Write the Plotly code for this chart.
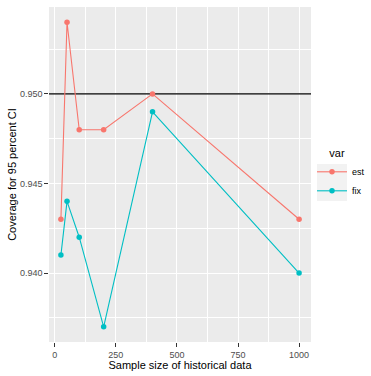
import plotly.graph_objects as go

sample_size = [25, 50, 100, 200, 400, 1000]
est = [0.943, 0.954, 0.948, 0.948, 0.950, 0.943]
fix = [0.941, 0.944, 0.942, 0.937, 0.949, 0.940]
ref_line = 0.95
x_ticks = [0, 250, 500, 750, 1000]
y_ticks = [0.940, 0.945, 0.950]
y_tick_labels = ["0.940", "0.945", "0.950"]

col_est = "#F8766D"
col_fix = "#00BFC4"
FONT = "Liberation Sans, Arial, sans-serif"

xmin, xmax = min(sample_size), max(sample_size)
xpad = (xmax - xmin) * 0.05
allv = est + fix
ymin, ymax = min(allv), max(allv)
ypad = (ymax - ymin) * 0.05
xr = [xmin - xpad, xmax + xpad]

fig = go.Figure()
fig.add_trace(go.Scatter(
    x=xr, y=[ref_line, ref_line], mode="lines", showlegend=False,
    line=dict(color="black", width=1.1), hoverinfo="skip",
))
for name, vals, col in [("est", est, col_est), ("fix", fix, col_fix)]:
    fig.add_trace(go.Scatter(
        x=sample_size, y=vals, name=name, mode="lines+markers",
        line=dict(color=col, width=1.1),
        marker=dict(color=col, size=5.5),
    ))

fig.update_xaxes(
    range=xr,
    tickvals=x_ticks, ticktext=[str(t) for t in x_ticks],
    showgrid=True, gridcolor="white", gridwidth=1.1,
    minor=dict(tickvals=[125, 375, 625, 875], showgrid=True, gridcolor="white", gridwidth=0.5, ticklen=0),
    ticks="outside", ticklen=3.7, tickcolor="#333333", tickwidth=1,
    tickfont=dict(family=FONT, size=9, color="#4D4D4D"),
    zeroline=False, showline=False,
    title=dict(text="Sample size of historical data", font=dict(family=FONT, size=11, color="black"), standoff=1),
)
fig.update_yaxes(
    range=[ymin - ypad, ymax + ypad],
    tickvals=y_ticks, ticktext=y_tick_labels,
    showgrid=True, gridcolor="white", gridwidth=1.1,
    minor=dict(tickvals=[0.9375, 0.9425, 0.9475, 0.9525], showgrid=True, gridcolor="white", gridwidth=0.5, ticklen=0),
    ticks="outside", ticklen=3.7, tickcolor="#333333", tickwidth=1,
    tickfont=dict(family=FONT, size=9, color="#4D4D4D"),
    zeroline=False, showline=False,
    title=dict(text="Coverage for 95 percent CI", font=dict(family=FONT, size=11, color="black"), standoff=1),
)

# grey key background behind legend symbols (ggplot style)
L, R, T, B = 49, 311, 7, 342
def px_x(p):
    return (p - L) / (R - L)
def px_y(p):
    return 1 - (p - T) / (B - T)

fig.add_shape(type="rect", xref="paper", yref="paper",
              x0=px_x(317), x1=px_x(347), y0=px_y(201), y1=px_y(164),
              fillcolor="#F2F2F2", line=dict(width=0), layer="below")

fig.update_layout(
    width=371, height=376,
    margin=dict(l=L, r=371 - R, t=T, b=376 - B, autoexpand=False),
    paper_bgcolor="white", plot_bgcolor="#EBEBEB",
    font=dict(family=FONT, size=9),
    legend=dict(
        title=dict(text="&nbsp;&nbsp;&nbsp;&nbsp;&nbsp;var", font=dict(family=FONT, size=11, color="black")),
        font=dict(family=FONT, size=9, color="black"),
        x=px_x(312), xanchor="left", y=0.5, yanchor="middle",
        itemwidth=30, tracegroupgap=0, bgcolor="rgba(0,0,0,0)",
    ),
)

fig.write_html("out.html")
